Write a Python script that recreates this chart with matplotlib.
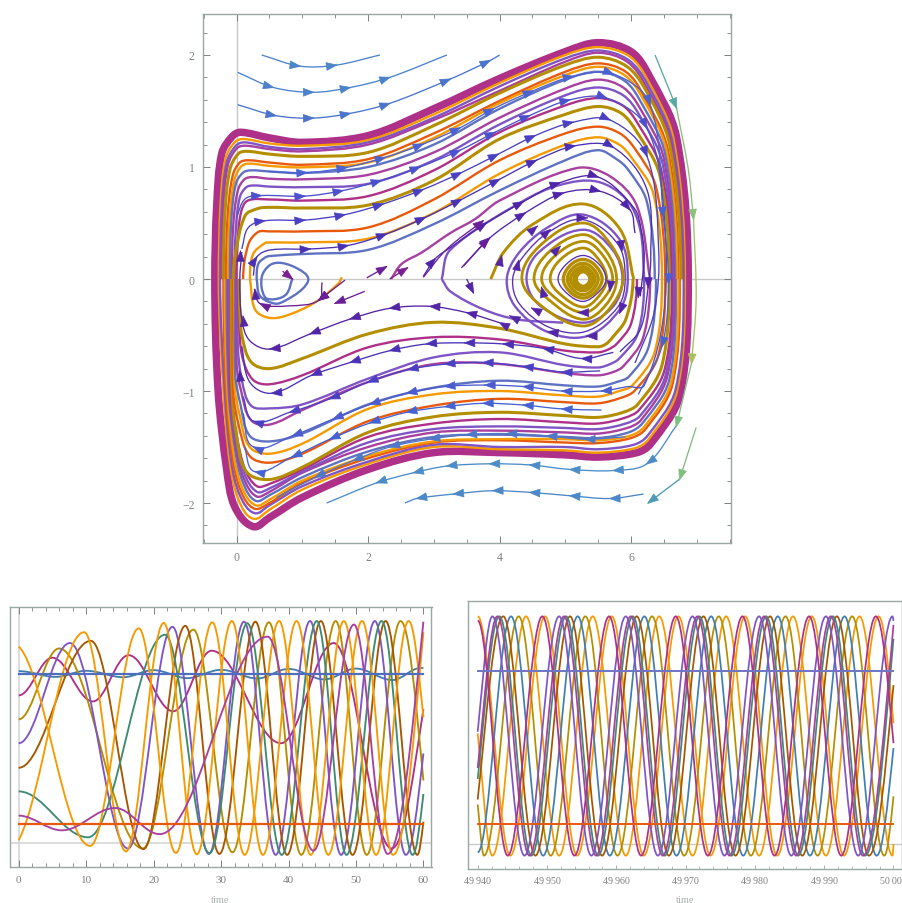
import numpy as np
import matplotlib
matplotlib.use("Agg")
from matplotlib import pyplot as plt
from matplotlib.path import Path
from matplotlib.patches import PathPatch
from matplotlib.ticker import MultipleLocator, FuncFormatter

plt.rcParams['font.family'] = ['Liberation Serif', 'DejaVu Serif']

ORANGE = "#F59A00"
RED = "#E8590C"
OLIVE = "#B38E00"
VIOLET = "#7F55C6"
MAGENTA = "#A8409F"
DEEP = "#AE3088"
SLATE = "#5F72C2"
BROWN = "#A85500"
GREEN = "#3F8A72"
TEAL = "#3F7FB0"
FRAME = "#9AA8A3"
GREY = "#808080"

# phase portrait: upper arcs, outer to inner
up_x = [0.5, 1, 2, 3, 4, 5, 5.5]
up_colors = [DEEP, ORANGE, VIOLET, MAGENTA, OLIVE, RED, ORANGE, SLATE, MAGENTA, VIOLET, DEEP, OLIVE, RED, ORANGE, SLATE]
up_left_x = [[-.33, -.3, -.225, -.07, .06], [-.27, -.245, -.17, -.03, .1], [-.25, -.225, -.15, -.01, .12],
             [-.23, -.205, -.13, .01, .14], [-.2, -.175, -.1, .03, .16], [-.16, -.135, -.06, .05, .18],
             [-.13, -.105, -.03, .08, .2], [-.1, -.08, -.01, .1, .22], [-.07, -.05, .02, .12, .24],
             [-.03, -.01, .05, .15, .27], [0, .02, .07, .17], [-.05, -.02, .13, .33],
             [.1, .18, .33], [.205, .25, .43], [.306, .33, .43]]
up_left_y = [[0, .67, 1.12, 1.27, 1.31], [0, .65, 1.07, 1.22, 1.25], [0, .63, 1.04, 1.19, 1.22],
             [0, .62, 1.02, 1.17, 1.19], [0, .6, .98, 1.12, 1.14], [0, .56, .92, 1.04, 1.06],
             [0, .55, .89, 1.01, 1.03], [0, .52, .85, .95, .97], [0, .48, .79, .89, .91],
             [0, .45, .73, .82, .835], [0, .35, .6, .7], [0, .21, .565, .63],
             [0, .31, .42], [0, .22, .32], [0, .134, .19]]
up_y = [[1.26, 1.22, 1.28, 1.52, 1.79, 2.03, 2.11],
        [1.21, 1.19, 1.24, 1.47, 1.75, 2.0, 2.07],
        [1.18, 1.16, 1.22, 1.44, 1.72, 1.97, 2.04],
        [1.16, 1.14, 1.2, 1.42, 1.68, 1.94, 2.02],
        [1.115, 1.095, 1.13, 1.37, 1.66, 1.91, 1.98],
        [1.04, 1.02, 1.07, 1.3, 1.59, 1.85, 1.925],
        [1.01, .997, 1.04, 1.26, 1.57, 1.82, 1.895],
        [.96, .946, 1.0, 1.2, 1.52, 1.78, 1.85],
        [.895, .89, .93, 1.13, 1.44, 1.7, 1.78],
        [.825, .82, .85, 1.06, 1.38, 1.64, 1.71],
        [.71, .7, .74, .97, 1.31, 1.55, 1.615],
        [.64, .634, .66, .88, 1.25, 1.47, 1.54],
        [.425, .425, .46, .71, 1.06, 1.3, 1.36],
        [.326, .327, .36, .59, .94, 1.2, 1.265],
        [.205, .223, .26, .49, .79, 1.06, 1.15]]
up_right_x = [[6.0, 6.28, 6.69, 6.87], [5.97, 6.25, 6.65, 6.82], [5.95, 6.24, 6.63, 6.8], [5.94, 6.22, 6.61, 6.78],
              [5.93, 6.21, 6.59, 6.76], [5.92, 6.18, 6.56, 6.72], [5.9, 6.16, 6.54, 6.7], [5.9, 6.14, 6.52, 6.67],
              [5.88, 6.13, 6.5, 6.65], [5.88, 6.12, 6.48, 6.63], [5.87, 6.1, 6.46, 6.61], [5.85, 6.08, 6.44, 6.58],
              [5.83, 6.05, 6.38, 6.52], [5.82, 6.0, 6.34, 6.47], [5.78, 5.95, 6.24, 6.36]]
up_right_y = [[2.03, 1.81, 1.27, 0], [1.99, 1.78, 1.24, 0], [1.96, 1.75, 1.22, 0], [1.94, 1.73, 1.21, 0],
              [1.9, 1.7, 1.19, 0], [1.85, 1.65, 1.15, 0], [1.82, 1.63, 1.14, 0], [1.77, 1.59, 1.11, 0],
              [1.71, 1.53, 1.07, 0], [1.64, 1.47, 1.03, 0], [1.55, 1.39, .97, 0], [1.48, 1.32, .92, 0],
              [1.3, 1.17, .82, 0], [1.2, 1.09, .76, 0], [1.07, .98, .69, 0]]

# phase portrait: lower arcs, outer to inner
low_colors = [DEEP, ORANGE, VIOLET, RED, ORANGE, SLATE, MAGENTA, VIOLET, DEEP, OLIVE, RED, ORANGE, SLATE, MAGENTA, VIOLET, DEEP, OLIVE]
low_left_x = [[-.33, -.28, -.15, -.03, .25], [-.27, -.2, -.1, .03, .25], [-.25, -.18, -.08, .05, .27],
              [-.2, -.16, -.06, .07, .27], [-.18, -.14, -.04, .09, .29], [-.15, -.12, -.02, .1, .29],
              [-.13, -.11, -.01, .11, .3], [-.11, -.1, 0, .12, .31], [-.09, -.09, .01, .13, .31],
              [-.08, -.07, 0, .15], [-.05, -.05, .03, .2], [-.03, -.03, .05, .2], [-.02, -.02, .06, .2],
              [0, 0, .07, .22], [.02, .02, .08, .22], [.03, .04, .09, .25], [.04, .05, .08, .22]]
low_left_y = [[0, -1, -1.7, -2.03, -2.21], [0, -1, -1.65, -1.97, -2.14], [0, -1, -1.63, -1.93, -2.09],
              [0, -1, -1.6, -1.9, -2.05], [0, -1, -1.58, -1.87, -2.02], [0, -1, -1.53, -1.82, -1.98],
              [0, -1, -1.5, -1.78, -1.94], [0, -1, -1.46, -1.74, -1.9], [0, -1, -1.42, -1.7, -1.85],
              [0, -1, -1.4, -1.72], [0, -1, -1.3, -1.58], [0, -.95, -1.22, -1.5], [0, -.85, -1.12, -1.4],
              [0, -.75, -1.0, -1.26], [0, -.6, -.9, -1.13], [0, -.4, -.7, -.9], [0, -.3, -.5, -.74]]
low_y = [[-2.13, -1.95, -1.7, -1.55, -1.55, -1.57, -1.59],
         [-2.06, -1.88, -1.65, -1.5, -1.52, -1.53, -1.55],
         [-2.02, -1.85, -1.63, -1.48, -1.5, -1.5, -1.52],
         [-2.0, -1.82, -1.6, -1.46, -1.44, -1.46, -1.465],
         [-1.97, -1.8, -1.58, -1.45, -1.43, -1.43, -1.44],
         [-1.93, -1.77, -1.54, -1.41, -1.39, -1.41, -1.42],
         [-1.9, -1.73, -1.5, -1.37, -1.354, -1.37, -1.38],
         [-1.87, -1.72, -1.46, -1.34, -1.316, -1.33, -1.34],
         [-1.83, -1.7, -1.41, -1.29, -1.25, -1.28, -1.29],
         [-1.79, -1.68, -1.37, -1.23, -1.19, -1.22, -1.235],
         [-1.64, -1.56, -1.27, -1.13, -1.07, -1.1, -1.11],
         [-1.56, -1.47, -1.16, -1.03, -1.0, -1.04, -1.05],
         [-1.45, -1.38, -1.12, -.97, -.908, -.95, -.96],
         [-1.3, -1.17, -.92, -.76, -.759, -.84, -.86],
         [-1.155, -1.12, -.89, -.7, -.655, -.77, -.79],
         [-.94, -.86, -.61, -.52, -.54, -.64, -.655],
         [-.8, -.71, -.49, -.387, -.44, -.58, -.605]]
low_right_x = [[6.09, 6.3, 6.74, 6.87], [6.06, 6.27, 6.7, 6.82], [6.04, 6.25, 6.68, 6.8], [6.0, 6.22, 6.63, 6.74],
               [5.98, 6.2, 6.61, 6.72], [5.96, 6.17, 6.58, 6.68], [5.94, 6.15, 6.55, 6.66], [5.92, 6.14, 6.53, 6.64],
               [5.9, 6.12, 6.51, 6.62], [5.88, 6.1, 6.47, 6.58], [5.85, 6.05, 6.41, 6.52], [5.82, 6.02, 6.36, 6.47],
               [5.78, 5.97, 6.27, 6.38], [5.73, 5.88, 6.18, 6.29], [5.68, 5.82, 6.1, 6.2], [5.65, 5.78, 6.0, 6.09],
               [5.62, 5.72, 5.92, 6.03]]
low_right_y = [[-1.55, -1.47, -1.04, 0], [-1.51, -1.43, -1.0, 0], [-1.48, -1.4, -.98, 0], [-1.42, -1.34, -.94, 0],
               [-1.4, -1.32, -.92, 0], [-1.37, -1.29, -.9, 0], [-1.33, -1.26, -.87, 0], [-1.29, -1.22, -.85, 0],
               [-1.24, -1.17, -.81, 0], [-1.19, -1.12, -.77, 0], [-1.06, -1.0, -.69, 0], [-1.0, -.95, -.65, 0],
               [-.92, -.87, -.6, 0], [-.83, -.78, -.53, 0], [-.76, -.71, -.49, 0], [-.63, -.58, -.4, 0],
               [-.58, -.52, -.36, 0]]

# inner thick strokes
inner_x = [[.85, .76, .585, .43, .383, .51, .686, .94, 1.09, 1.0, .74, .585, .357, .306],
           [2.35, 2.51, 2.82, 3.25, 3.63, 4.0, 5.17, 5.68, 6.09, 6.29],
           [3.12, 3.25, 4.34, 4.92, 5.48, 5.93, 6.14, 6.2],
           [3.12, 3.25, 3.75, 4.26, 4.97],
           [3.866, 4.06, 4.51, 5.27, 5.83, 6.04],
           [1.6, 1.55, 1.19, .74, .48, .28, .205]]
inner_y = [[.006, -.134, -.18, -.16, .015, .125, .143, .089, .006, -.09, -.193, -.22, -.15, 0],
           [0, .134, .238, .41, .536, .70, .99, .917, .65, 0],
           [0, .26, .69, .84, .87, .71, .44, 0],
           [0, -.11, -.27, -.36, -.39],
           [0, .237, .49, .67, .446, 0],
           [.015, -.04, -.21, -.33, -.345, -.27, 0]]
inner_colors = [SLATE, MAGENTA, VIOLET, VIOLET, OLIVE, ORANGE]
inner_lw = [1.7, 1.7, 1.7, 1.7, 2.1, 1.7]

# closed rings round the focus near x = 5.3
ring_x = [[4.11, 4.29, 4.72, 5.27, 5.83, 5.95, 5.83, 5.33, 4.72, 4.236],
          [4.2, 4.36, 4.75, 5.27, 5.8, 5.91, 5.8, 5.3, 4.75, 4.3],
          [4.41, 4.6, 5.27, 5.72, 5.87, 5.72, 5.27, 4.62],
          [4.34, 4.62, 5.27, 5.7, 5.88, 5.65, 5.27, 4.68],
          [4.525, 4.75, 5.27, 5.62, 5.78, 5.62, 5.27, 4.78],
          [4.64, 4.83, 5.27, 5.56, 5.72, 5.56, 5.27, 4.85],
          [4.77, 4.92, 5.27, 5.5, 5.63, 5.5, 5.27, 4.93],
          [4.89, 5.03, 5.27, 5.5, 5.62, 5.5, 5.27, 5.03],
          [4.97, 5.08, 5.27, 5.45, 5.56, 5.45, 5.27, 5.08],
          [5.03, 5.12, 5.27, 5.41, 5.5, 5.41, 5.27, 5.12],
          [5.08, 5.15, 5.27, 5.38, 5.45, 5.38, 5.27, 5.15],
          [5.13, 5.18, 5.27, 5.36, 5.41, 5.36, 5.27, 5.18],
          [5.165, 5.2, 5.27, 5.34, 5.375, 5.34, 5.27, 5.2]]
ring_y = [[0, .23, .456, .575, .35, 0, -.27, -.51, -.47, -.244],
          [0, .2, .42, .53, .31, 0, -.25, -.47, -.43, -.22],
          [0, .24, .44, .26, 0, -.25, -.39, -.24],
          [0, .3, .5, .3, 0, -.28, -.42, -.26],
          [0, .24, .396, .25, 0, -.23, -.36, -.2],
          [0, .2, .336, .22, 0, -.19, -.3, -.17],
          [0, .17, .277, .18, 0, -.16, -.25, -.14],
          [0, .14, .21, .14, 0, -.12, -.2, -.13],
          [0, .125, .175, .125, 0, -.12, -.17, -.12],
          [0, .1, .14, .1, 0, -.1, -.14, -.1],
          [0, .075, .11, .075, 0, -.075, -.105, -.075],
          [0, .06, .085, .06, 0, -.06, -.08, -.06],
          [0, .045, .065, .045, 0, -.045, -.065, -.045]]
ring_colors = [VIOLET, "#5A2CB0", VIOLET, OLIVE, OLIVE, OLIVE, OLIVE, "#5A2CB0", OLIVE, OLIVE, OLIVE, OLIVE, OLIVE]
ring_lw = [1.7, .95, 1.7, 2.0, 2.0, 2.0, 2.0, .95, 2.4, 2.4, 2.4, 2.4, 2.4]

# thin streamlines with arrowheads, typed in flow direction
thin_x = [[.48, 1.07, 1.68, 2.26, 2.84, 3.4, 3.91, 4.51, 5.12, 5.73, 6.29, 6.49, 6.57, 6.47, 6.11],
          [0, .13, .38, 1.04, 1.62, 2.2, 2.79, 3.4, 3.93, 4.46, 5.07, 5.63, 6.24, 6.5, 6.5, 6.2, 5.95],
          [.08, .18, .43, 1.04, 1.65, 2.23, 2.84, 3.42, 3.98, 4.54, 5.12, 5.68, 6.24, 6.42, 6.35, 6.06],
          [.256, .306, .51, 1.12, 1.7, 2.28, 2.87, 3.42, 4.0, 4.56, 5.15, 5.73, 6.24, 6.3, 6.26, 6.14, 5.83],
          [3.45, 3.85, 4.39, 4.97, 5.53, 5.98, 6.06],
          [2.84, 3.02, 3.25, 3.8, 4.36, 4.92, 5.5, 6.05, 6.15, 6.2, 6.14],
          [5.91, 5.3, 4.72, 4.11, 3.5, 2.94, 2.33, 1.78, 1.2, .61],
          [5.55, 4.95, 4.36, 3.75, 3.17, 2.59, 2.03, 1.42, .84, .28, .12],
          [5.95, 5.55, 4.95, 4.36, 3.78, 3.17, 2.59, 2.03, 1.47, .85, .26, .1],
          [5.53, 4.95, 4.36, 3.75, 3.17, 2.61, 2.0, 1.42, .81, .26, .1],
          [5.73, 5.25, 4.67, 4.06, 3.47, 2.89, 2.33, 1.73, 1.14, .535, .2, .08],
          [4.0, 3.5, 2.94, 2.33, 1.73, 1.12, .51, .2, .08, .05, .08],
          [1.3, 1.25, .79, .36, .27],
          [1.65, 1.25],
          [1.95, 1.5],
          [1.98, 2.28],
          [2.33, 2.6],
          [2.84, 3.2, 3.75],
          [3.42, 3.83],
          [3.5, 3.6],
          [.7, .85]]
thin_y = [[.96, .95, .997, 1.086, 1.205, 1.35, 1.52, 1.68, 1.81, 1.83, 1.56, .56, -.035, -.6, -1.03],
          [.55, .715, .745, .74, .79, .88, 1.0, 1.15, 1.31, 1.46, 1.6, 1.615, 1.35, .6, -.3, -.95, -.96],
          [.268, .46, .52, .526, .575, .67, .8, .95, 1.115, 1.28, 1.4, 1.42, 1.1, .26, -.3, -.75],
          [.03, .194, .259, .268, .3, .402, .55, .71, .89, 1.06, 1.19, 1.175, .8, .2, -.07, -.45, -.65],
          [.115, .366, .59, .768, .783, .62, .41],
          [.024, .18, .28, .5, .69, .86, .91, .63, .45, .2, -.155],
          [-1.41, -1.43, -1.4, -1.38, -1.39, -1.43, -1.5, -1.62, -1.77, -1.95],
          [-1.17, -1.16, -1.125, -1.11, -1.14, -1.19, -1.285, -1.43, -1.59, -1.72, -1.5],
          [-.96, -1.0, -1.0, -.96, -.947, -.96, -1.02, -1.12, -1.25, -1.4, -1.5, -1.2],
          [-.82, -.83, -.78, -.745, -.76, -.81, -.92, -1.07, -1.19, -1.27, -1.05],
          [-.655, -.71, -.62, -.58, -.57, -.58, -.64, -.745, -.86, -1.02, -.92, -.6],
          [-.39, -.3, -.244, -.262, -.357, -.49, -.625, -.55, -.357, 0, .24],
          [-.03, -.19, -.24, -.22, -.09],
          [-.01, -.19],
          [-.11, -.217],
          [.01, .11],
          [.0, .1],
          [.015, .268, .52],
          [.1, .36],
          [0, -.12],
          [.07, 0]]
thin_colors = ["#4A62D2", "#4B50CC", "#4A40C2", "#4A30B4", "#4E24A8", "#4E24A8", "#4F78C8", "#4562D2", "#4A5CD0",
               "#4A40C2", "#4A30B4", "#5424A6", "#6A1F98", "#6A1F98", "#6A1F98", "#6A1F98", "#7A2090", "#6A1F98",
               "#6A1F98", "#5424A6", "#7A2090"]

# outer streamlines, split where their colour changes
outer_x = [[.383, .966, 1.52, 2.18],
           [.018, .56, 1.17, 1.73, 2.33, 3.2],
           [.018, .6, 1.17, 1.73, 2.33, 3.25, 3.855, 4.0],
           [6.365, 6.69],
           [6.69, 6.87, 6.95],
           [6.95, 6.99, 6.92],
           [6.92, 6.69],
           [6.69, 6.24, 5.73, 5.07, 4.46, 3.85, 3.2, 2.69, 2.13, 1.37],
           [6.99, 6.74],
           [6.74, 6.26],
           [6.19, 5.68, 5.07, 4.46, 3.9, 3.3, 2.74, 2.56]]
outer_y = [[2.0, 1.9, 1.91, 2.0],
           [1.845, 1.71, 1.667, 1.71, 1.8, 2.0],
           [1.556, 1.458, 1.437, 1.479, 1.568, 1.785, 1.95, 2.0],
           [2.0, 1.53],
           [1.53, .98, .54],
           [.54, -.18, -.75],
           [-.75, -1.31],
           [-1.31, -1.65, -1.71, -1.7, -1.66, -1.65, -1.67, -1.73, -1.82, -2.0],
           [-1.325, -1.786],
           [-1.786, -2.0],
           [-1.92, -1.96, -1.935, -1.905, -1.89, -1.92, -1.96, -2.0]]
outer_colors = ["#4C85C8", "#4C82CC", "#4A74CC", "#5AA9A0", "#8BBF7A", "#A8C060", "#7FBF80", "#4C8CC8", "#80BF7C", "#4C9AB8", "#4C88C8"]

head_x = [5.33, 5.86, 5.83, 5.33, 4.74, 4.16, 4.49, 4.29, 4.77, 4.57, 4.03, 4.92, 4.64, 5.2, 5.68, 6.11, .06, .1, .28, .05, 4.0, 6.26]
head_y = [.545, .26, -.3, -.51, -.47, -.33, -.26, .16, .44, .47, .2, .29, -.08, -.3, -.1, -.155, .24, -.34, -.1, -.83, -.39, -.07]
head_dx = [1, .2, -.4, -1, -1, -1, -1, .4, 1, 1, .4, 1, -.3, -1, -.2, -.1, 0, -.2, -.2, -.15, -1, -.05]
head_dy = [0, -1, -.6, 0, .1, .3, .3, 1, .5, .5, 1, .6, .6, 0, -1, -1, 1, 1, 1, 1, .3, -1]

# short run, t = 0..60
t_flat = [0, 60]
y_flat_blue = [5.3, 5.3]
y_flat_orange = [.59, .59]
t_wavy = [0, 5.5, 10, 15.5, 20, 25, 30, 35.4, 40, 45.3, 50, 55.4, 59.6, 60]
y_wavy = [5.38, 5.2, 5.39, 5.19, 5.41, 5.16, 5.42, 5.15, 5.45, 5.12, 5.46, 5.1, 5.48, 5.48]
t_mag1 = [0, 5, 11, 16.3, 22.9, 28.6, 38.9, 46.7, 55.3, 60]
y_mag1 = [4.62, 5.8, 4.43, 5.88, 4.12, 6.02, 3.12, 6.26, -.18, 4.19]
t_mag2 = [0, 6.4, 14.3, 20.9, 36.9, 43.7, 49.7, 54.7, 60]
y_mag2 = [.85, .39, 1.09, .27, 6.46, -.25, 6.84, -.35, 6.93]
t_or1 = [0, 10.6, 17.8, 23.3, 28.7, 33.5, 38.6, 43.3, 48.2, 53, 57.8, 60]
y_or1 = [6.15, -.1, 6.72, -.32, 6.91, -.38, 6.95, -.38, 6.95, -.38, 6.95, 3.93]
t_or2 = [0, 9.7, 15.9, 21.5, 26.4, 31.6, 36.2, 41.2, 45.9, 50.9, 55.5, 60]
y_or2 = [.08, 6.6, -.27, 6.89, -.36, 6.95, -.38, 6.95, -.38, 6.95, -.38, 6.6]
t_olive = [0, 6, 18.4, 25.9, 31.7, 37.1, 41.9, 47, 51.6, 56.6, 60]
y_olive = [3.87, 6.09, -.18, 6.68, -.3, 6.91, -.38, 6.95, -.38, 6.95, 1.95]
t_violet = [0, 7.6, 16.2, 22.8, 28.2, 33.4, 38.1, 43.2, 47.8, 52.8, 57.4, 60]
y_violet = [3.12, 6.26, -.18, 6.77, -.35, 6.93, -.38, 6.95, -.38, 6.95, -.38, 2.8]
t_brown = [0, 10.7, 18.5, 24.7, 29.75, 35.1, 39.8, 44.8, 49.5, 54.4, 59.1, 60]
y_brown = [2.35, 6.33, -.2, 6.8, -.35, 6.93, -.38, 6.95, -.38, 6.95, -.38, .66]
t_green = [0, 10.3, 21.7, 28.3, 33.9, 39, 44.2, 48.6, 53.8, 58.4, 60]
y_green = [1.61, .17, 6.52, -.33, 6.88, -.38, 6.95, -.38, 6.95, -.38, 1.53]

# long run, t = 49940..50000
t2_flat = [49940, 50000]
y2_flat_blue = [5.3, 5.3]
y2_flat_orange = [.6, .6]
t2_or1 = [0, 4.72, 9.72, 14.35, 19.35, 23.97, 28.97, 33.6, 38.6, 43.22, 48.22, 52.85, 57.85, 60]
y2_or1 = [6.97, -.37, 6.97, -.37, 6.97, -.37, 6.97, -.37, 6.97, -.37, 6.97, -.37, 6.97, 3.69]
t2_or2 = [0, 2.12, 6.98, 11.75, 16.6, 21.37, 26.2, 31, 35.85, 40.6, 45.5, 50.25, 55.1, 59.87, 60]
y2_or2 = [3.38, -.37, 6.97, -.37, 6.97, -.37, 6.97, -.37, 6.97, -.37, 6.97, -.37, 6.97, -.37, -.02]
t2_violet = [0, 2.12, 6.75, 11.75, 16.4, 21.37, 26, 31, 35.6, 40.6, 45.25, 50.25, 54.9, 59.87, 60]
y2_violet = [3.43, 6.97, -.37, 6.97, -.37, 6.97, -.37, 6.97, -.37, 6.97, -.37, 6.97, -.37, 6.97, 6.83]
t2_mag1 = [0, 2.84, 7.46, 12.46, 17.08, 22.09, 26.7, 31.71, 36.33, 41.34, 45.96, 50.96, 55.58, 60]
y2_mag1 = [2.32, 6.97, -.37, 6.97, -.37, 6.97, -.37, 6.97, -.37, 6.97, -.37, 6.97, -.37, 6.71]
t2_green = [0, 3.13, 7.75, 12.75, 17.38, 22.38, 27, 32, 36.63, 41.63, 46.25, 51.25, 55.88, 60]
y2_green = [1.98, 6.97, -.37, 6.97, -.37, 6.97, -.37, 6.97, -.37, 6.97, -.37, 6.97, -.37, 6.28]
t2_brown = [0, 3.7, 8.33, 13.33, 17.95, 22.95, 27.58, 32.58, 37.2, 42.2, 46.83, 51.83, 56.45, 60]
y2_brown = [1.35, 6.97, -.37, 6.97, -.37, 6.97, -.37, 6.97, -.37, 6.97, -.37, 6.97, -.37, 4.86]
t2_teal = [0, 4.81, 9.44, 14.44, 19.06, 24.06, 28.69, 33.69, 38.31, 43.31, 47.94, 52.94, 57.56, 60]
y2_teal = [-.27, 6.97, -.37, 6.97, -.37, 6.97, -.37, 6.97, -.37, 6.97, -.37, 6.97, -.37, 2.93]
t2_olive = [0, .91, 5.92, 10.54, 15.54, 20.17, 25.17, 29.79, 34.79, 39.42, 44.42, 49.04, 54.04, 58.67, 60]
y2_olive = [1.2, -.37, 6.97, -.37, 6.97, -.37, 6.97, -.37, 6.97, -.37, 6.97, -.37, 6.97, -.37, 1.45]
t2_mag2 = [0, 4.33, 9.33, 13.96, 18.96, 23.58, 28.58, 33.21, 38.21, 42.83, 47.83, 52.46, 57.46, 60]
y2_mag2 = [6.84, -.37, 6.97, -.37, 6.97, -.37, 6.97, -.37, 6.97, -.37, 6.97, -.37, 6.97, 3.08]

W, H = 903, 904
SX, SY = 65.75, 112.0   # pixels per unit in the phase portrait


def smooth(xs, ys, closed=False, start=None, end=None):
	"""bezier path through the read points, chord scaled tangents in pixel space"""
	p = np.column_stack([np.array(xs, float) * SX, np.array(ys, float) * SY])
	n = len(p)
	tang = np.zeros_like(p)
	for i in range(n):
		if closed:
			a, b = p[i - 1], p[(i + 1) % n]
		else:
			a, b = p[max(i - 1, 0)], p[min(i + 1, n - 1)]
		d = b - a
		tang[i] = d / max(np.hypot(*d), 1e-6)
	if start is not None:
		tang[0] = start
	if end is not None:
		tang[-1] = end
	verts = [p[0]]
	codes = [Path.MOVETO]
	for i in range(n if closed else n - 1):
		j = (i + 1) % n
		c = np.hypot(*(p[j] - p[i])) / 3
		verts += [p[i] + tang[i] * c, p[j] - tang[j] * c, p[j]]
		codes += [Path.CURVE4] * 3
	verts = np.array(verts) / [SX, SY]
	return Path(verts, codes)


def wave(ts, ys, m0=0.0):
	"""bezier path for a time series, level at the extrema"""
	t = np.array(ts, float)
	y = np.array(ys, float)
	m = np.zeros(len(t))
	sec = np.diff(y) / np.diff(t)
	for i in range(1, len(t) - 1):
		if sec[i - 1] * sec[i] > 0:
			m[i] = 2 * sec[i - 1] * sec[i] / (sec[i - 1] + sec[i])
	m[-1] = 1.5 * sec[-1]
	if abs(y[-1] - y[-2]) < .5:
		m[-1] = sec[-1]
	m[0] = m0
	verts = [(t[0], y[0])]
	codes = [Path.MOVETO]
	for i in range(len(t) - 1):
		h = (t[i + 1] - t[i]) * .36
		verts += [(t[i] + h, y[i] + m[i] * h), (t[i + 1] - h, y[i + 1] - m[i + 1] * h), (t[i + 1], y[i + 1])]
		codes += [Path.CURVE4] * 3
	return Path(verts, codes)


def add(ax, path, c, lw, z=2):
	ax.add_patch(PathPatch(path, fill=False, ec=c, lw=lw, capstyle='butt', joinstyle='round', zorder=z))


def head(ax, x, y, dx, dy, c):
	s = .02 / max(np.hypot(dx, dy), 1e-6)
	ax.annotate('', xy=(x + dx * s, y + dy * s), xytext=(x, y), zorder=4,
		arrowprops=dict(arrowstyle='-|>,head_length=0.75,head_width=0.28', mutation_scale=10, fc=c, ec=c,
			lw=.5, shrinkA=0, shrinkB=0))


def arrows(ax, xs, ys, c, side=False):
	if len(xs) <= 3:
		head(ax, xs[-1], ys[-1], xs[-1] - xs[-2], ys[-1] - ys[-2], c)
		return
	last = None
	for i in range(1, len(xs) - 1):
		if xs[i] < .2:
			continue
		# the right hand side is crowded, only a few lines carry heads there
		if not side and xs[i] > 6.0 and abs(ys[i]) < 1.0:
			continue
		px = np.array([xs[i] * SX, ys[i] * SY])
		if last is not None and np.hypot(*(px - last)) < 32:
			continue
		last = px
		head(ax, xs[i], ys[i], xs[i + 1] - xs[i - 1], ys[i + 1] - ys[i - 1], c)


def box(l, t, r, b):
	ax = plt.gcf().add_axes([l / W, 1 - b / H, (r - l) / W, (b - t) / H])
	for s in ax.spines.values():
		s.set_color(FRAME)
		s.set_linewidth(1)
	return ax


fig = plt.figure(figsize=(W / 100, H / 100), dpi=100)

# ---- phase portrait
ax = box(203, 15, 731, 544)
ax.set_xlim(-.51, 7.52)
ax.set_ylim(-2.357, 2.366)
ax.axhline(0, color="#C8C8C8", lw=1, zorder=1)
ax.axvline(0, color="#C8C8C8", lw=1, zorder=1)

for i in range(len(up_colors)):
	xs = up_left_x[i] + up_x + up_right_x[i]
	ys = up_left_y[i] + up_y[i] + up_right_y[i]
	lw = 5.4 if i == 0 else 2.2 if up_colors[i] == OLIVE else 1.7
	add(ax, smooth(xs, ys, start=(0, 1), end=(0, -1)), up_colors[i], lw, 2 if i == 0 else 3)
for i in range(len(low_colors)):
	xs = low_left_x[i] + up_x + low_right_x[i]
	ys = low_left_y[i] + low_y[i] + low_right_y[i]
	lw = 5.4 if i == 0 else 2.2 if low_colors[i] == OLIVE else 1.7
	add(ax, smooth(xs, ys, start=(0, -1), end=(0, 1)), low_colors[i], lw, 2 if i == 0 else 3)
for i in range(len(inner_colors)):
	add(ax, smooth(inner_x[i], inner_y[i]), inner_colors[i], inner_lw[i], 3)
for i in range(len(ring_colors)):
	add(ax, smooth(ring_x[i], ring_y[i], closed=True), ring_colors[i], ring_lw[i], 3)
for i in range(len(thin_colors)):
	add(ax, smooth(thin_x[i], thin_y[i]), thin_colors[i], .95, 3)
	arrows(ax, thin_x[i], thin_y[i], thin_colors[i], side=(i == 0))
for i in range(len(outer_colors)):
	add(ax, smooth(outer_x[i], outer_y[i]), outer_colors[i], .95, 3)
	arrows(ax, outer_x[i], outer_y[i], outer_colors[i], side=True)
for i in range(len(head_x)):
	head(ax, head_x[i], head_y[i], head_dx[i], head_dy[i], "#5326A8")

ax.xaxis.set_major_locator(MultipleLocator(2))
ax.xaxis.set_minor_locator(MultipleLocator(.5))
ax.yaxis.set_major_locator(MultipleLocator(1))
ax.yaxis.set_minor_locator(MultipleLocator(.2))
ax.tick_params(which='major', direction='in', top=True, right=True, length=5, width=.7, color=GREY,
	labelsize=8.5, labelcolor=GREY, pad=6)
ax.tick_params(which='minor', direction='in', top=True, right=True, length=3, width=.6, color=GREY)
ax.yaxis.set_major_formatter(FuncFormatter(lambda v, p: ("\u2212%d" % -v) if v < 0 else "%d" % v))

# ---- short run
ax2 = box(10, 608, 431.5, 868)
ax2.set_xlim(-1.29, 61.2)
ax2.set_ylim(-.76, 7.39)
ax2.axhline(0, color="#D5D5D5", lw=1.2, zorder=1)
ax2.axvline(0, color="#D5D5D5", lw=1.2, zorder=1)
short = [(t_wavy, y_wavy, TEAL, 0), (t_mag1, y_mag1, DEEP, 0), (t_olive, y_olive, OLIVE, 0), (t_violet, y_violet, VIOLET, 0),
	(t_brown, y_brown, BROWN, 0), (t_green, y_green, GREEN, 0), (t_or1, y_or1, ORANGE, -.2), (t_or2, y_or2, ORANGE, .4),
	(t_mag2, y_mag2, MAGENTA, 0)]
for ts, ys, c, m0 in short:
	add(ax2, wave(ts, ys, m0), c, 1.35)
ax2.plot(t_flat, y_flat_blue, color="#4E6FBF", lw=1.6, zorder=3)
ax2.plot(t_flat, y_flat_orange, color=RED, lw=1.6, zorder=3)
ax2.xaxis.set_major_locator(MultipleLocator(10))
ax2.xaxis.set_minor_locator(MultipleLocator(2))
ax2.set_yticks([])
ax2.tick_params(which='major', direction='in', top=True, length=5, width=.7, color=GREY, labelsize=8, labelcolor=GREY, pad=6)
ax2.tick_params(which='minor', direction='in', top=True, length=3, width=.6, color=GREY)

# ---- long run
ax3 = box(468, 601.7, 902.5, 870)
ax3.set_xlim(49938.6, 50001.3)
ax3.set_ylim(-.78, 7.45)
ax3.axhline(0, color="#C8C8C8", lw=1, zorder=1)
long_run = [(t2_or1, y2_or1, ORANGE, 0), (t2_or2, y2_or2, ORANGE, -2.0), (t2_olive, y2_olive, OLIVE, -2.0), (t2_teal, y2_teal, TEAL, 0),
	(t2_brown, y2_brown, BROWN, 2.0), (t2_green, y2_green, GREEN, 2.0), (t2_mag1, y2_mag1, MAGENTA, 2.0), (t2_violet, y2_violet, VIOLET, 2.0),
	(t2_mag2, y2_mag2, DEEP, 0)]
for ts, ys, c, m0 in long_run:
	add(ax3, wave(np.array(ts) + 49940, ys, m0), c, 1.25)
ax3.plot(t2_flat, y2_flat_blue, color="#6F74C4", lw=1.4, zorder=3)
ax3.plot(t2_flat, y2_flat_orange, color=RED, lw=1.4, zorder=3)
ax3.xaxis.set_major_locator(MultipleLocator(10))
ax3.xaxis.set_minor_locator(MultipleLocator(2))
ax3.xaxis.set_major_formatter(FuncFormatter(lambda v, p: "%d\u2009%03d" % (v // 1000, v % 1000)))
ax3.set_yticks([])
ax3.tick_params(which='major', direction='in', length=3, width=.6, color=FRAME, labelsize=7.2, labelcolor=GREY, pad=5)
ax3.tick_params(which='minor', direction='in', length=2, width=.5, color=FRAME)

fig.text(220 / W, 1 - 901 / H, "time", ha='center', va='center', fontsize=7.5, color="#A9B2B0")
fig.text(685 / W, 1 - 901 / H, "time", ha='center', va='center', fontsize=7.5, color="#A9B2B0")

fig.savefig("out.png", dpi=100)
